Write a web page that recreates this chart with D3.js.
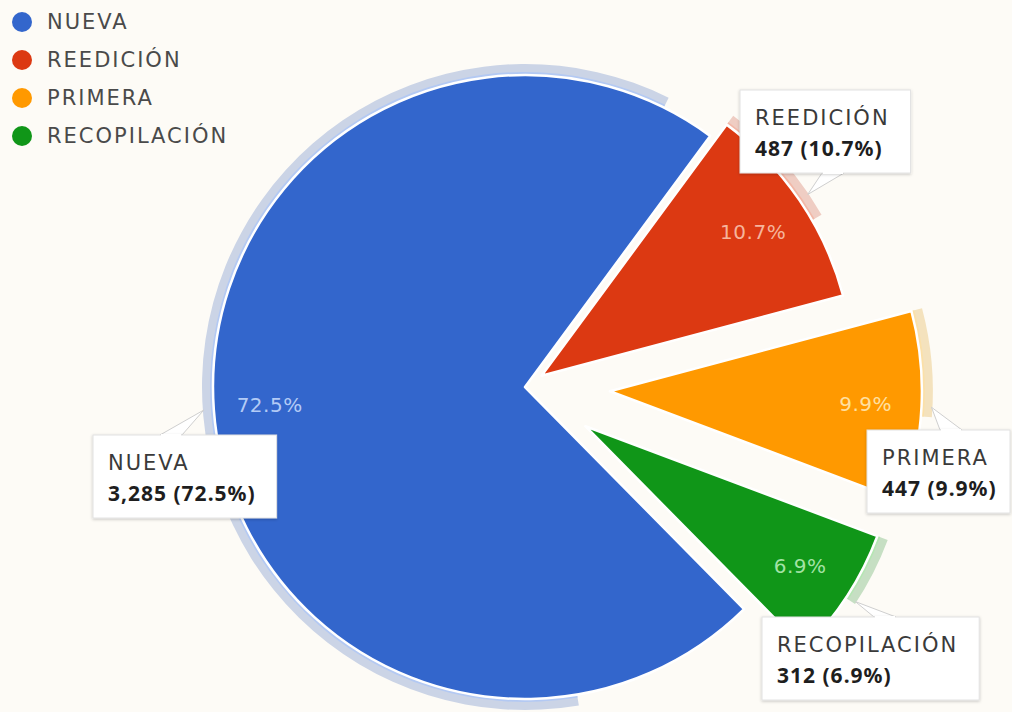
<!DOCTYPE html>
<html><head><meta charset="utf-8">
<script src="https://cdn.jsdelivr.net/npm/d3@7"></script>
<style>
html,body{margin:0;padding:0;background:#fdfbf6;}
svg{display:block;font-family:"DejaVu Sans",sans-serif;}
</style></head><body>
<svg id="chart" width="1012" height="712"></svg>
<script>
// ---- data ----
const categories = ["NUEVA", "REEDICIÓN", "PRIMERA", "RECOPILACIÓN"];
const values = [3285, 487, 447, 312];

// ---- style ----
const colors = ["#3366cc", "#dc3912", "#ff9900", "#109618"];
const pctColors = ["#b3cbf6", "#f6b49c", "#ffe0a0", "#a3e3a5"];
const shadowColors = ["#cbd4e6", "#efcdc3", "#f4e2bd", "#c6dfc3"];
const shadowLines = ["#b3c9f3", "#f2b7a6", "#fbe0a8", "#b5e6b3"];

const cx = 525, cy = 387, R = 312;
const startDeg = 135.4;
const explode = [0, 20, 85, 72];
const shadowTrim = [[35, 10], [0, 15], [0, 16], [0, 12]];
const callouts = [
  {x: 93, y: 435, side: "top", b0: 160, b1: 182},
  {x: 740, y: 90, side: "bottom", b0: 822, b1: 844},
  {x: 867, y: 430, side: "top", b0: 940, b1: 962},
  {x: 762, y: 617, side: "top", b0: 874, b1: 896}
];
const toRad = d => d * Math.PI / 180;

const svg = d3.select("#chart");
svg.append("rect").attr("width", 1012).attr("height", 712).attr("fill", "#fdfbf6");
const defs = svg.append("defs");
const flt = defs.append("filter").attr("id", "boxShadow")
  .attr("x", "-20%").attr("y", "-20%").attr("width", "140%").attr("height", "140%");
flt.append("feDropShadow").attr("dx", 0).attr("dy", 1).attr("stdDeviation", 1.5)
  .attr("flood-color", "#000").attr("flood-opacity", 0.22);

const pie = d3.pie().sort(null).value(d => d)
  .startAngle(toRad(startDeg)).endAngle(toRad(startDeg + 360));
const arcs = pie(values);
const total = d3.sum(values);
const pct = d3.format(".1%"), num = d3.format(",");

const arc = d3.arc().innerRadius(0).outerRadius(R);
const ring = d3.arc().innerRadius(R + 1).outerRadius(R + 11);
const ringLine = d3.arc().innerRadius(R).outerRadius(R + 3);
const mid = a => (a.startAngle + a.endAngle) / 2;
const offset = (a, i) => [Math.sin(mid(a)) * explode[i], -Math.cos(mid(a)) * explode[i]];
const polar = (a, i, r) => { const o = offset(a, i); return [cx + o[0] + Math.sin(mid(a)) * r, cy + o[1] - Math.cos(mid(a)) * r]; };

const g = svg.append("g").attr("transform", `translate(${cx},${cy})`);
const trimmed = (a, i) => ({startAngle: a.startAngle + toRad(shadowTrim[i][0]), endAngle: a.endAngle - toRad(shadowTrim[i][1])});

// shadows
const sh = g.append("g").selectAll("g").data(arcs).join("g")
  .attr("transform", (a, i) => `translate(${offset(a, i)})`);
sh.append("path").attr("d", (a, i) => ring(trimmed(a, i))).attr("fill", (a, i) => shadowColors[i]);
sh.append("path").attr("d", (a, i) => ringLine(trimmed(a, i))).attr("fill", (a, i) => shadowLines[i]);

// slices
const sl = g.append("g").selectAll("g").data(arcs).join("g")
  .attr("transform", (a, i) => `translate(${offset(a, i)})`);
sl.append("path").attr("d", arc).attr("fill", (a, i) => colors[i])
  .attr("stroke", "#ffffff").attr("stroke-width", 2.5).attr("stroke-linejoin", "round");

// percentage labels
svg.append("g").selectAll("text").data(arcs).join("text")
  .attr("x", (a, i) => polar(a, i, 256)[0]).attr("y", (a, i) => polar(a, i, 256)[1])
  .attr("text-anchor", "middle").attr("dominant-baseline", "central")
  .attr("font-size", 20).attr("letter-spacing", 0.5)
  .attr("fill", (a, i) => pctColors[i])
  .text(a => pct(a.value / total));

// callouts
const cg = svg.append("g");
arcs.forEach((a, i) => {
  const c = callouts[i];
  const grp = cg.append("g");
  const t1 = grp.append("text").attr("x", c.x + 15).attr("y", c.y + 35)
    .attr("font-size", 21).attr("letter-spacing", 2).attr("fill", "#3a3a3a").text(categories[i]);
  const t2 = grp.append("text").attr("x", c.x + 15).attr("y", c.y + 66)
    .attr("font-family", "'Noto Sans', sans-serif")
    .attr("font-size", 21).attr("font-weight", 700).attr("letter-spacing", 1).attr("fill", "#1e1e1e")
    .text(`${num(a.value)} (${pct(a.value / total)})`);
  const w = Math.min(1010 - c.x, Math.max(t1.node().getComputedTextLength(), t2.node().getComputedTextLength()) + 36);
  const h = 83;
  const tip = polar(a, i, R + 10);
  const ey = c.side === "top" ? c.y : c.y + h;
  grp.insert("path", "text")
    .attr("d", `M${tip[0]},${tip[1]}L${c.b0},${ey}L${c.b1},${ey}Z`)
    .attr("fill", "#ffffff").attr("stroke", "#cfcfcf").attr("stroke-width", 1);
  grp.insert("rect", "text").attr("x", c.x).attr("y", c.y).attr("width", w).attr("height", h)
    .attr("fill", "#ffffff").attr("stroke", "#e2e2e2").attr("filter", "url(#boxShadow)");
  grp.insert("path", "text")
    .attr("d", `M${c.b0 + 1},${ey}L${c.b1 - 1},${ey}`)
    .attr("stroke", "#ffffff").attr("stroke-width", 2);
});

// legend
const lg = svg.append("g").selectAll("g").data(categories).join("g")
  .attr("transform", (d, i) => `translate(22,${22 + 38 * i})`);
lg.append("circle").attr("r", 10).attr("fill", (d, i) => colors[i]);
lg.append("text").attr("x", 25).attr("dominant-baseline", "central")
  .attr("font-size", 21).attr("letter-spacing", 2).attr("fill", "#4a4a4a").text(d => d);
</script>
</body></html>
